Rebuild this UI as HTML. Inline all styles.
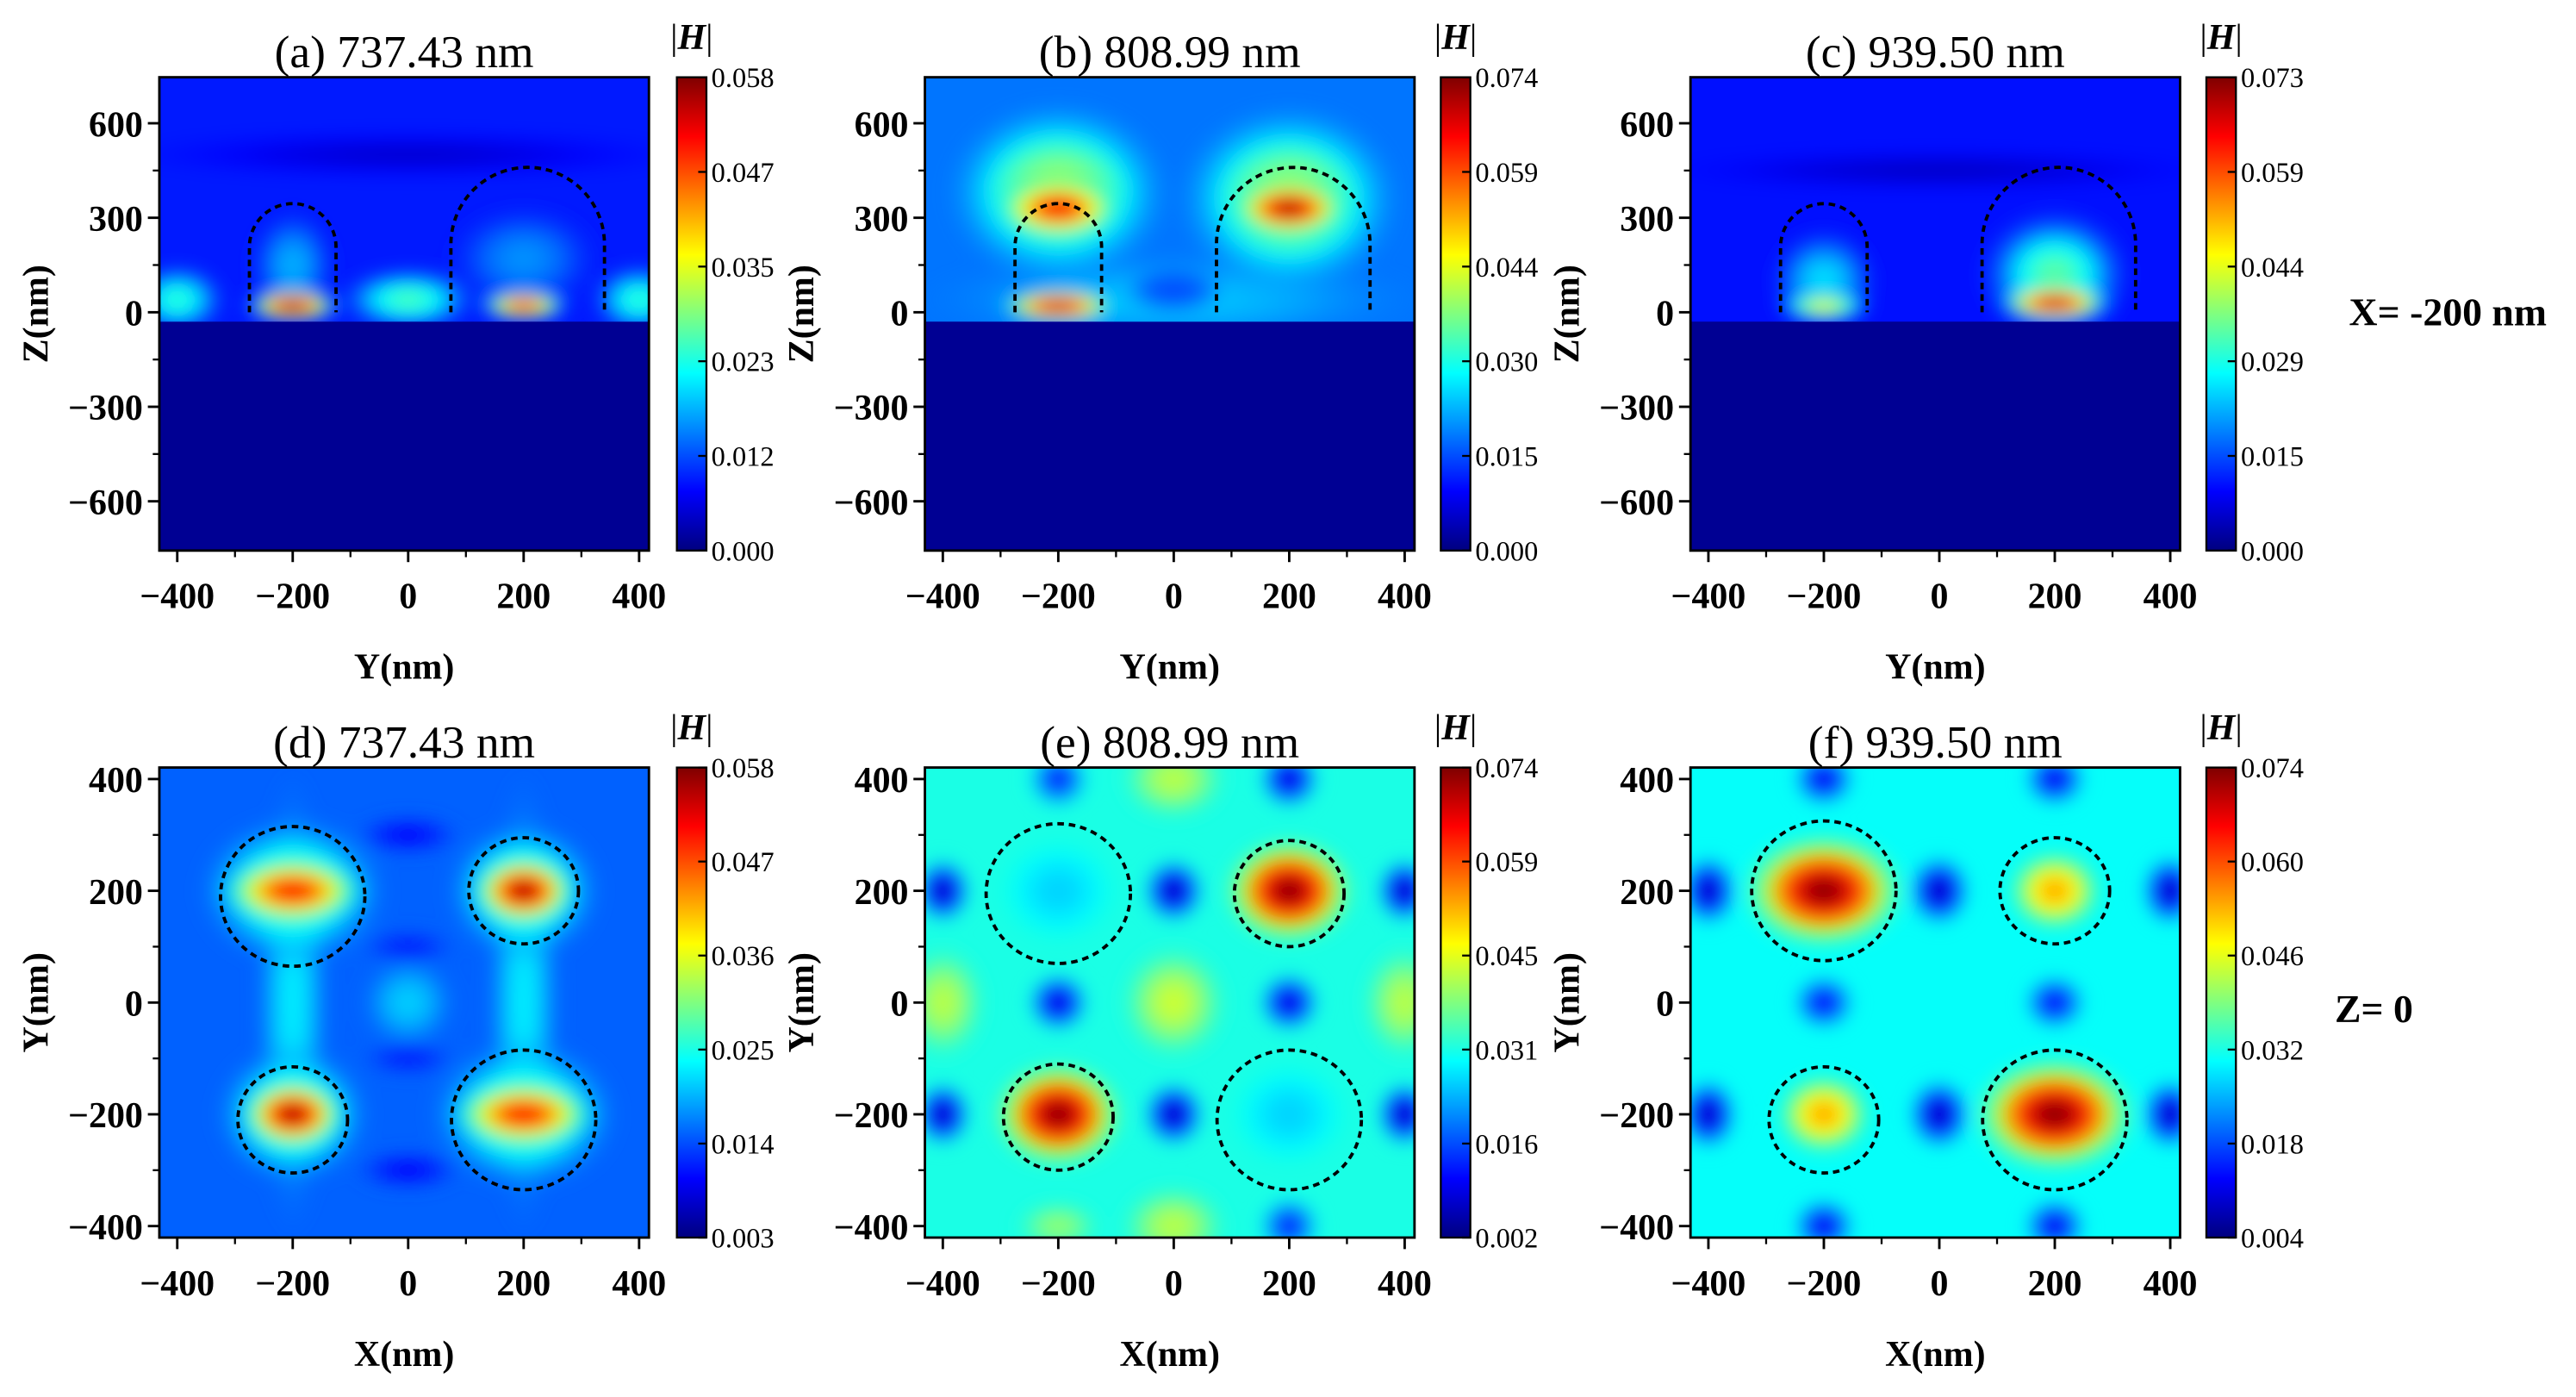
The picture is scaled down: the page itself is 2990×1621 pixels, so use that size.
<!DOCTYPE html>
<html><head><meta charset="utf-8"><style>
html,body{margin:0;padding:0;background:#fff;}
svg{display:block;}
text{font-family:"Liberation Serif",serif;}
</style></head><body>
<svg id="fig" width="2990" height="1621" viewBox="0 0 1568 850" preserveAspectRatio="none" xmlns="http://www.w3.org/2000/svg">
<defs>
<filter id="blur" x="-50%" y="-50%" width="200%" height="200%"><feGaussianBlur stdDeviation="5"/></filter>
<linearGradient id="jetbar" x1="0" y1="1" x2="0" y2="0">
<stop offset="0" stop-color="#00007f"/><stop offset="0.125" stop-color="#0000ff"/><stop offset="0.375" stop-color="#00ffff"/><stop offset="0.625" stop-color="#ffff00"/><stop offset="0.875" stop-color="#ff0000"/><stop offset="1" stop-color="#7f0000"/>
</linearGradient>
</defs>
<text x="1490" y="198" text-anchor="middle" font-size="24" font-weight="bold">X= -200 nm</text>
<text x="1445" y="622" text-anchor="middle" font-size="24" font-weight="bold">Z= 0</text>
</svg>
<script>
// ---- data ----
const titles = ["(a) 737.43 nm","(b) 808.99 nm","(c) 939.50 nm","(d) 737.43 nm","(e) 808.99 nm","(f) 939.50 nm"];
const cbTicksA = ["0.000","0.012","0.023","0.035","0.047","0.058"];
const cbTicksB = ["0.000","0.015","0.030","0.044","0.059","0.074"];
const cbTicksC = ["0.000","0.015","0.029","0.044","0.059","0.073"];
const cbTicksD = ["0.003","0.014","0.025","0.036","0.047","0.058"];
const cbTicksE = ["0.002","0.016","0.031","0.045","0.059","0.074"];
const cbTicksF = ["0.004","0.018","0.032","0.046","0.060","0.074"];
const xTicks = [-400,-200,0,200,400];
const zTicks = [-600,-300,0,300,600];
const yTicks = [-400,-200,0,200,400];
// background level above interface (top row) / whole (bottom row)
const bgLevels = [0.15,0.24,0.14,0.22,0.40,0.38];
// hotspots: [x, y, rx, ry, peak] in data units, peak = normalized |H|
const spotsA = [[0,500,500,80,0.08],[-400,40,90,120,0.42],[0,40,130,110,0.45],[400,40,90,120,0.42],[-200,150,80,190,0.3],[200,170,140,180,0.27],[-200,20,90,60,1.0],[200,20,85,55,0.88]];
const spotsB = [[0,40,450,160,0.32],[-200,380,200,300,0.55],[200,360,200,310,0.55],[-200,330,120,110,0.9],[200,330,110,100,0.98],[-200,20,110,60,0.95],[0,70,90,80,0.2]];
const spotsC = [[0,450,500,70,0.07],[-200,100,100,180,0.35],[200,120,140,220,0.47],[-200,20,90,55,0.62],[200,30,110,70,0.95]];
const spotsD = [[-200,0,70,420,0.36],[200,0,70,420,0.36],[0,0,90,90,0.33],[-200,200,170,140,0.5],[200,200,140,130,0.5],[-200,-200,140,130,0.5],[200,-200,170,140,0.5],[0,300,100,40,0.12],[0,-300,100,40,0.12],[0,100,90,35,0.15],[0,-100,90,35,0.15],[-200,200,140,70,0.88],[200,200,100,70,0.98],[-200,-200,100,70,0.98],[200,-200,140,70,0.88]];
const spotsE = [[0,0,100,110,0.58],[-400,0,80,110,0.56],[400,0,80,110,0.56],[0,400,100,80,0.56],[0,-400,100,80,0.56],[-200,-400,80,50,0.52],[200,-200,110,100,0.33],[-200,200,110,100,0.33],[0,200,60,65,0.05],[0,-200,60,65,0.05],[-400,200,55,65,0.05],[400,200,55,65,0.05],[-400,-200,55,65,0.05],[400,-200,55,65,0.05],[-200,0,60,60,0.08],[200,0,60,60,0.08],[200,400,60,60,0.08],[-200,400,60,60,0.15],[200,-400,60,60,0.15],[200,200,120,100,1.0],[-200,-200,120,100,1.0]];
const spotsF = [[0,200,60,70,0.05],[0,-200,60,70,0.05],[-400,200,55,70,0.05],[400,200,55,70,0.05],[-400,-200,55,70,0.05],[400,-200,55,70,0.05],[-200,0,60,55,0.12],[200,0,60,55,0.12],[-200,400,60,55,0.1],[200,400,60,55,0.1],[-200,-400,60,55,0.1],[200,-400,60,55,0.1],[-200,200,150,110,1.0],[200,-200,150,110,1.0],[200,200,90,80,0.72],[-200,-200,90,80,0.72]];
// dashed particle outlines. top: [centerY, halfWidth, topZ]; bottom circles [x,y,r]
const archesTop = [[-200,75,345],[207,133,460]];
const circlesD = [[-200,190,125],[200,200,95],[-200,-210,95],[200,-210,125]];
const circlesE = [[-200,195,125],[200,195,95],[-200,-205,95],[200,-210,125]];
const circlesF = [[-200,200,125],[200,200,95],[-200,-210,95],[200,-210,125]];

const spots=[spotsA,spotsB,spotsC,spotsD,spotsE,spotsF];
const cbs=[cbTicksA,cbTicksB,cbTicksC,cbTicksD,cbTicksE,cbTicksF];
const circles=[null,null,null,circlesD,circlesE,circlesF];

const NS="http://www.w3.org/2000/svg";
const svg=document.getElementById('fig');
const defs=svg.querySelector('defs');
function mk(tag,attrs,parent){const e=document.createElementNS(NS,tag);for(const k in attrs)e.setAttribute(k,attrs[k]);(parent||svg).appendChild(e);return e;}
function jet(v){v=Math.max(0,Math.min(1,v));
 const st=[[0,0,0,127],[0.125,0,0,255],[0.375,0,255,255],[0.625,255,255,0],[0.875,255,0,0],[1,127,0,0]];
 for(let i=1;i<st.length;i++){if(v<=st[i][0]){const a=st[i-1],b=st[i],t=(v-a[0])/(b[0]-a[0]);
 return `rgb(${Math.round(a[1]+(b[1]-a[1])*t)},${Math.round(a[2]+(b[2]-a[2])*t)},${Math.round(a[3]+(b[3]-a[3])*t)})`;}}
 return "rgb(127,0,0)";}

const colX=[97,563,1029], cbX=[412,877,1343], pw=298;
const rowY=[[47,335],[467,753]];
let gid=0;
for(let p=0;p<6;p++){
 const row=p<3?0:1, col=p%3;
 const L=colX[col], R=L+pw, T=rowY[row][0], B=rowY[row][1];
 const xs=v=>L+(v+431)*(pw/848);
 const ys=row===0? (v=>190-v*(57.5/300)) : (v=>610-v*(68/200));
 const g=mk('g',{},svg);
 
 
 const cp=mk('clipPath',{id:'cp'+p},defs);mk('rect',{x:L,y:T,width:pw,height:B-T},cp);
 const hm=mk('g',{'clip-path':`url(#cp${p})`},g);
 
 
 const bl=bgLevels[p];
 if(row===0){
  mk('rect',{x:L,y:T,width:pw,height:B-T,fill:jet(0.02)},hm);
  mk('rect',{x:L-10,y:T-10,width:pw+20,height:ys(-30)-T+10,fill:jet(bl)},hm);
 } else mk('rect',{x:L,y:T,width:pw,height:B-T,fill:jet(bl)},hm);
 const sg=mk('g',{filter:'url(#blur)'},hm);
 for(const s of spots[p]){
  const id='rg'+(gid++);const rg=mk('radialGradient',{id:id},defs);
  for(let k=0;k<=8;k++){const t=k/8;const v=bl+(s[4]-bl)*Math.exp(-2.2*t*t);
   mk('stop',{offset:t,'stop-color':jet(v),'stop-opacity':Math.min(1,(1-t)*2.2)},rg);}
  const e=mk('ellipse',{cx:xs(s[0]),cy:ys(s[1]),rx:Math.abs(xs(s[2])-xs(0)),ry:Math.abs(ys(s[3])-ys(0)),fill:`url(#${id})`},sg);
  
  
 }
 if(row===0){
  mk('rect',{x:L,y:ys(-30),width:pw,height:B-ys(-30),fill:jet(0.02)},hm);
  for(const a of archesTop){
   const xl=xs(a[0]-a[1]),xr=xs(a[0]+a[1]),r=(xr-xl)/2,top=ys(a[2]);
   const d=`M${xl},${ys(0)} L${xl},${top+r} A${r},${r} 0 0 1 ${xr},${top+r} L${xr},${ys(0)}`;
   const pa=mk('path',{d:d,fill:'none',stroke:'#000','stroke-width':2,'stroke-dasharray':'4,3'},hm);
   
   
  }
 } else {
  for(const c of circles[p]){
   const el=mk('ellipse',{cx:xs(c[0]),cy:ys(c[1]),rx:xs(c[2])-xs(0),ry:ys(0)-ys(c[2]),fill:'none',stroke:'#000','stroke-width':2,'stroke-dasharray':'4,3'},hm);
   
   
  }
 }
 mk('rect',{x:L,y:T,width:pw,height:B-T,fill:'none',stroke:'#000','stroke-width':1.5},g);
 for(const v of xTicks){mk('line',{x1:xs(v),x2:xs(v),y1:B,y2:B+7,stroke:'#000','stroke-width':1.5},g);
  const t=mk('text',{x:xs(v),y:B+35,'text-anchor':'middle','font-size':22,'font-weight':'bold'},g);t.textContent=v<0?'\u2212'+(-v):v;
  }
 for(let i=0;i<xTicks.length-1;i++){const v=(xTicks[i]+xTicks[i+1])/2;mk('line',{x1:xs(v),x2:xs(v),y1:B,y2:B+4,stroke:'#000','stroke-width':1.2},g);}
 const vt=row===0?zTicks:yTicks;
 for(const v of vt){mk('line',{x1:L-7,x2:L,y1:ys(v),y2:ys(v),stroke:'#000','stroke-width':1.5},g);
  const t=mk('text',{x:L-10,y:ys(v)+8,'text-anchor':'end','font-size':22,'font-weight':'bold'},g);t.textContent=v<0?'\u2212'+(-v):v;
  }
 for(let i=0;i<vt.length-1;i++){const v=(vt[i]+vt[i+1])/2;mk('line',{x1:L-4,x2:L,y1:ys(v),y2:ys(v),stroke:'#000','stroke-width':1.2},g);}
 const tt=mk('text',{x:(L+R)/2,y:T-6,'text-anchor':'middle','font-size':28},g);tt.textContent=titles[p];
 
 const xl=mk('text',{x:(L+R)/2,y:B+78,'text-anchor':'middle','font-size':22,'font-weight':'bold'},g);xl.textContent=row===0?'Y(nm)':'X(nm)';
 
 const yc=(T+B)/2, yx=L-68;
 const yl=mk('text',{x:yx,y:yc,'text-anchor':'middle','font-size':22,'font-weight':'bold',transform:`rotate(-90 ${yx} ${yc})`},g);yl.textContent=row===0?'Z(nm)':'Y(nm)';
 
 const cx=cbX[col];
 const cb=mk('rect',{x:cx,y:T,width:18,height:B-T,fill:'url(#jetbar)',stroke:'#000','stroke-width':1.2},g);
 
 const ticks=cbs[p];
 for(let i=0;i<ticks.length;i++){const y=B-(B-T)*i/(ticks.length-1);
  mk('line',{x1:cx+13,x2:cx+18,y1:y,y2:y,stroke:'#000','stroke-width':1.2},g);
  const t=mk('text',{x:cx+21,y:y+6,'font-size':17},g);t.textContent=ticks[i];
  }
 const h=mk('text',{x:cx+9,y:T-17,'text-anchor':'middle','font-size':22},g);
 h.innerHTML='|<tspan font-weight="bold" font-style="italic">H</tspan>|';
 
}
</script>
</body></html>
